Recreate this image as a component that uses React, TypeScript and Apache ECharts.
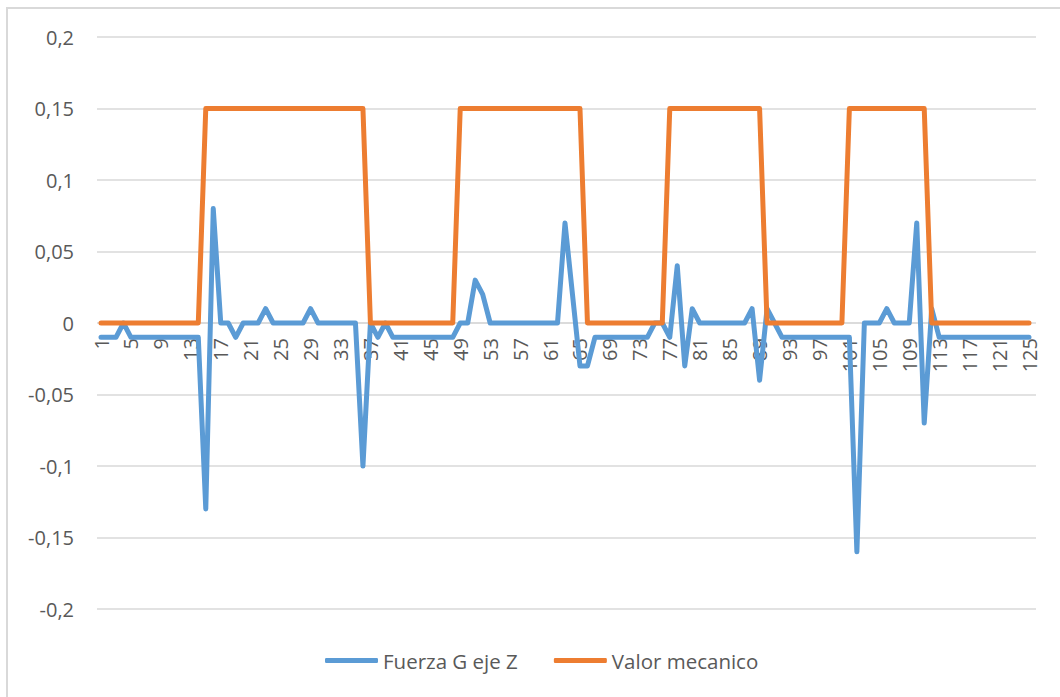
import React, { useEffect, useRef } from "react";
import * as echarts from "echarts";

const categories: string[] = Array.from({ length: 125 }, (_, i) => String(i + 1));

const fuerzaGEjeZ: number[] = [
  -0.01, -0.01, -0.01, 0, -0.01, -0.01, -0.01, -0.01, -0.01, -0.01,
  -0.01, -0.01, -0.01, -0.01, -0.13, 0.08, 0, 0, -0.01, 0,
  0, 0, 0.01, 0, 0, 0, 0, 0, 0.01, 0,
  0, 0, 0, 0, 0, -0.1, 0, -0.01, 0, -0.01,
  -0.01, -0.01, -0.01, -0.01, -0.01, -0.01, -0.01, -0.01, 0, 0,
  0.03, 0.02, 0, 0, 0, 0, 0, 0, 0, 0,
  0, 0, 0.07, 0.02, -0.03, -0.03, -0.01, -0.01, -0.01, -0.01,
  -0.01, -0.01, -0.01, -0.01, 0, 0, -0.01, 0.04, -0.03, 0.01,
  0, 0, 0, 0, 0, 0, 0, 0.01, -0.04, 0.01,
  0, -0.01, -0.01, -0.01, -0.01, -0.01, -0.01, -0.01, -0.01, -0.01,
  -0.01, -0.16, 0, 0, 0, 0.01, 0, 0, 0, 0.07,
  -0.07, 0.01, -0.01, -0.01, -0.01, -0.01, -0.01, -0.01, -0.01, -0.01,
  -0.01, -0.01, -0.01, -0.01, -0.01,
];

const valorMecanico: number[] = [
  0, 0, 0, 0, 0, 0, 0, 0, 0, 0,
  0, 0, 0, 0, 0.15, 0.15, 0.15, 0.15, 0.15, 0.15,
  0.15, 0.15, 0.15, 0.15, 0.15, 0.15, 0.15, 0.15, 0.15, 0.15,
  0.15, 0.15, 0.15, 0.15, 0.15, 0.15, 0, 0, 0, 0,
  0, 0, 0, 0, 0, 0, 0, 0, 0.15, 0.15,
  0.15, 0.15, 0.15, 0.15, 0.15, 0.15, 0.15, 0.15, 0.15, 0.15,
  0.15, 0.15, 0.15, 0.15, 0.15, 0, 0, 0, 0, 0,
  0, 0, 0, 0, 0, 0, 0.15, 0.15, 0.15, 0.15,
  0.15, 0.15, 0.15, 0.15, 0.15, 0.15, 0.15, 0.15, 0.15, 0,
  0, 0, 0, 0, 0, 0, 0, 0, 0, 0,
  0.15, 0.15, 0.15, 0.15, 0.15, 0.15, 0.15, 0.15, 0.15, 0.15,
  0.15, 0, 0, 0, 0, 0, 0, 0, 0, 0,
  0, 0, 0, 0, 0,
];

const seriesNames: string[] = ["Fuerza G eje Z", "Valor mecanico"];
const seriesColors: string[] = ["#5B9BD5", "#ED7D31"];

const FONT = "Open Sans";
const TEXT_COLOR = "#595959";
const GRID_COLOR = "#D9D9D9";

export default function App() {
  const ref = useRef<HTMLDivElement>(null);

  useEffect(() => {
    if (!ref.current) return;
    const chart = echarts.init(ref.current, undefined, { renderer: "svg" });
    const fmt = (v: number) => String(Math.round(v * 100) / 100).replace(".", ",");
    chart.setOption({
      animation: false,
      backgroundColor: "#FFFFFF",
      textStyle: { fontFamily: FONT },
      graphic: [
        {
          type: "rect",
          shape: { x: 7, y: 8, width: 1070, height: 700 },
          style: { fill: "none", stroke: GRID_COLOR, lineWidth: 2 },
          silent: true,
        },
      ],
      grid: [
        { left: 97, right: 24, top: 37, bottom: 88 },
        { left: 101, right: 31, top: 37, bottom: 88 },
      ],
      legend: {
        data: seriesNames,
        left: 320,
        top: 645,
        icon: "roundRect",
        itemWidth: 53,
        itemHeight: 5,
        itemGap: 36,
        textStyle: { color: TEXT_COLOR, fontSize: 20.5, fontFamily: FONT },
      },
      xAxis: [
        {
          type: "category",
          gridIndex: 0,
          data: categories,
          show: false,
          boundaryGap: false,
        },
        {
          type: "category",
          gridIndex: 1,
          data: categories,
          boundaryGap: false,
          position: "bottom",
          offset: -286,
          axisLine: {
            onZero: false,
            lineStyle: { color: GRID_COLOR, width: 1.5 },
          },
          axisTick: { show: false },
          splitLine: { show: false },
          axisLabel: {
            interval: 3,
            rotate: 90,
            margin: 15,
            color: TEXT_COLOR,
            fontSize: 20,
            fontFamily: FONT,
          },
        },
      ],
      yAxis: [
        {
          type: "value",
          gridIndex: 0,
          min: -0.2,
          max: 0.2,
          interval: 0.05,
          axisLine: { show: false },
          axisTick: { show: false },
          splitLine: { lineStyle: { color: GRID_COLOR, width: 1.5 } },
          axisLabel: {
            formatter: fmt,
            margin: 23,
            color: TEXT_COLOR,
            fontSize: 20,
            fontFamily: FONT,
          },
        },
        {
          type: "value",
          gridIndex: 1,
          min: -0.2,
          max: 0.2,
          interval: 0.05,
          axisLine: { show: false },
          axisTick: { show: false },
          axisLabel: { show: false },
          splitLine: { show: false },
        },
      ],
      series: [
        {
          name: seriesNames[0],
          type: "line",
          xAxisIndex: 1,
          yAxisIndex: 1,
          data: fuerzaGEjeZ,
          showSymbol: false,
          symbol: "none",
          color: seriesColors[0],
          lineStyle: { width: 5, color: seriesColors[0], cap: "round", join: "round" },
        },
        {
          name: seriesNames[1],
          type: "line",
          xAxisIndex: 1,
          yAxisIndex: 1,
          data: valorMecanico,
          showSymbol: false,
          symbol: "none",
          color: seriesColors[1],
          lineStyle: { width: 5, color: seriesColors[1], cap: "round", join: "round" },
        },
      ],
    });
    return () => chart.dispose();
  }, []);

  return (
    <div
      ref={ref}
      style={{ position: "absolute", left: 0, top: 0, width: 1060, height: 697 }}
    />
  );
}
